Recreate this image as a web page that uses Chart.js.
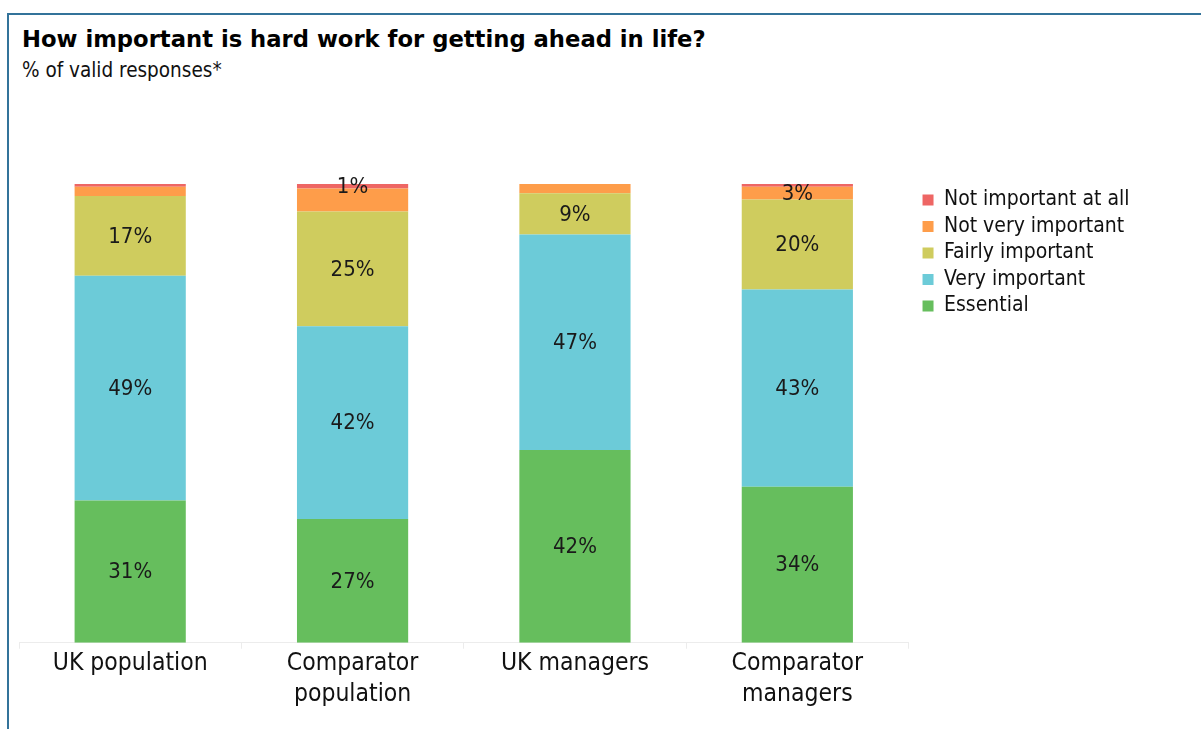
<!DOCTYPE html>
<html>
<head>
<meta charset="utf-8">
<script src="https://cdn.jsdelivr.net/npm/chart.js@4"></script>
<style>
  body { margin: 0; background: #fff; overflow: hidden; }
  #wrap { position: relative; width: 1201px; height: 729px; }
  #frame { position: absolute; left: 7px; top: 13px; width: 1300px; height: 800px;
           border-left: 2px solid #33739a; border-top: 2px solid #33739a; }
  #title { position: absolute; left: 22px; top: 26px; font: bold 22.7px "DejaVu Sans"; color: #000; white-space: nowrap; }
  #subtitle { position: absolute; left: 22px; top: 58px; font: 20.5px "DejaVu Sans Condensed", "DejaVu Sans"; color: #111; white-space: nowrap; }
  #myChart { position: absolute; left: 0; top: 0; }
</style>
</head>
<body>
<div id="wrap">
  <div id="frame"></div>
  <div id="title">How important is hard work for getting ahead in life?</div>
  <div id="subtitle">% of valid responses*</div>
  <canvas id="myChart" width="1201" height="729"></canvas>
</div>
<script>
var groups = [['UK population'], ['Comparator', 'population'], ['UK managers'], ['Comparator', 'managers']]

// % of valid responses, bottom segment first
var essential = [31, 27, 42, 34]
var veryImportant = [49, 42, 47, 43]
var fairlyImportant = [17.4, 25, 9, 19.6]
var notVeryImportant = [2, 5, 2, 2.8]
var notImportantAtAll = [0.6, 1, 0, 0.6]

// which segments get a % label
var labelsAll = [true, true, true, true]
var labelsNotVery = [false, false, false, true]
var labelsNotAtAll = [false, true, false, false]

var fontFamily = '"DejaVu Sans Condensed", "DejaVu Sans"'

var barLabels = {
    id: 'barLabels',
    afterDatasetsDraw: function(chart) {
        var ctx = chart.ctx
        ctx.save()
        ctx.font = '22px ' + fontFamily
        ctx.fillStyle = '#1a1a1a'
        ctx.textAlign = 'center'
        ctx.textBaseline = 'middle'
        chart.data.datasets.forEach(function(ds, i) {
            var meta = chart.getDatasetMeta(i)
            meta.data.forEach(function(bar, j) {
                if (!ds.showLabel[j]) return
                var y = (bar.y + bar.base) / 2
                ctx.fillText(Math.round(ds.data[j]) + '%', bar.x, y + 1)
            })
        })
        ctx.restore()
    }
}

// leave a gap between the plot and the legend
var legendGap = {
    id: 'legendGap',
    afterLayout: function(chart) {
        chart.legend.left += 8.5
        chart.legend.right += 8.5
    }
}

var myChart = document.getElementById('myChart').getContext('2d')
var chart = new Chart(myChart, {
    type: 'bar',
    data: {
        labels: groups,
        datasets: [
            { label: 'Essential', data: essential, backgroundColor: '#66be5d', showLabel: labelsAll },
            { label: 'Very important', data: veryImportant, backgroundColor: '#6ccbd8', showLabel: labelsAll },
            { label: 'Fairly important', data: fairlyImportant, backgroundColor: '#cfcc5e', showLabel: labelsAll },
            { label: 'Not very important', data: notVeryImportant, backgroundColor: '#fe9d4a', showLabel: labelsNotVery },
            { label: 'Not important at all', data: notImportantAtAll, backgroundColor: '#ee6664', showLabel: labelsNotAtAll }
        ]
    },
    options: {
        responsive: false,
        animation: false,
        layout: { padding: { left: 19, right: 70, top: 184, bottom: 19 } },
        datasets: { bar: { categoryPercentage: 1, barPercentage: 0.5 } },
        scales: {
            x: {
                stacked: true,
                grid: { offset: true, drawOnChartArea: false, tickLength: 6, color: '#ececec' },
                border: { color: '#ececec' },
                ticks: { color: '#111', padding: 0, font: { family: fontFamily, size: 24.5, lineHeight: 1.25 } }
            },
            y: { stacked: true, display: false, min: 0, max: 100 }
        },
        plugins: {
            legend: {
                position: 'right',
                align: 'start',
                reverse: true,
                labels: { boxWidth: 11, boxHeight: 11, padding: 5.5, color: '#111', font: { family: fontFamily, size: 21 } }
            },
            tooltip: { enabled: false }
        }
    },
    plugins: [barLabels, legendGap]
})
</script>
</body>
</html>
